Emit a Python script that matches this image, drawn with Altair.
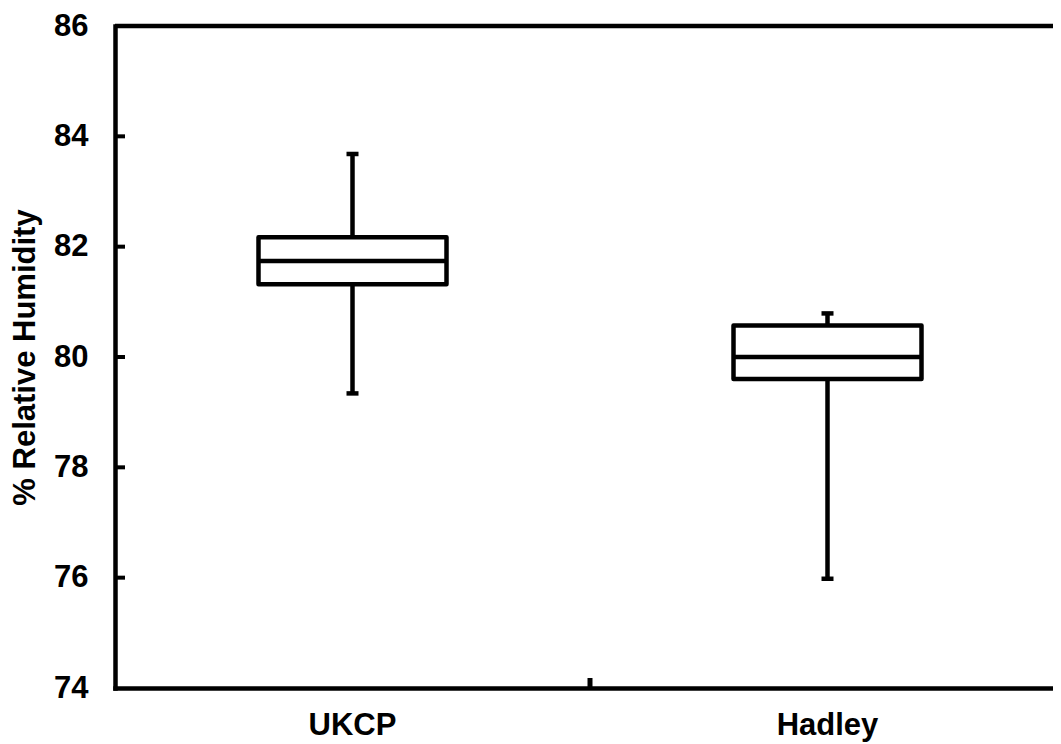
import altair as alt
import pandas as pd

categories = ["UKCP", "Hadley"]
whisker_low = [79.34, 75.98]
q1 = [81.32, 79.60]
median = [81.74, 80.00]
q3 = [82.17, 80.57]
whisker_high = [83.68, 80.79]
y_ticks = [74, 76, 78, 80, 82, 84, 86]
inner_y_ticks = [76, 78, 80, 82, 84]
x_tick_at = ["Hadley"]
frame_top = [86]

df = pd.DataFrame({
    "cat": categories,
    "low": whisker_low,
    "q1": q1,
    "median": median,
    "q3": q3,
    "high": whisker_high,
})

W, H = 938, 662
XRANGE = 950
FONT = "Liberation Sans"
FS = 31
LW = 4.5

xscale = alt.Scale(domain=categories, paddingInner=0, paddingOuter=0, range=[0, XRANGE])
yscale = alt.Scale(domain=[74, 86], nice=False, zero=False)

base = alt.Chart(df)

xenc = alt.X("cat:N", scale=xscale, sort=categories, title=None,
             axis=alt.Axis(labelAngle=0, labelFont=FONT, labelFontSize=FS,
                           labelFontWeight="bold", labelColor="black",
                           labelPadding=22, ticks=False, domain=True,
                           domainColor="black", domainWidth=LW, domainCap="square"))
yax = alt.Axis(values=y_ticks, format="d", labelFont=FONT, labelFontSize=FS,
               labelFontWeight="bold", labelColor="black", labelPadding=27,
               ticks=False, domain=True, domainColor="black", domainWidth=LW,
               domainCap="square", grid=False,
               title="% Relative Humidity", titleFont=FONT, titleFontSize=FS,
               titleFontWeight="bold", titleColor="black", titlePadding=12)

whisker = base.mark_rule(color="black", strokeWidth=LW).encode(
    x=xenc,
    y=alt.Y("low:Q", scale=yscale, axis=yax),
    y2="high:Q",
)
caps_low = base.mark_tick(color="black", size=12, thickness=LW, opacity=1,
                          orient="horizontal").encode(
    x=alt.X("cat:N", scale=xscale, sort=categories), y=alt.Y("low:Q", scale=yscale))
caps_high = base.mark_tick(color="black", size=12, thickness=LW, opacity=1,
                           orient="horizontal").encode(
    x=alt.X("cat:N", scale=xscale, sort=categories), y=alt.Y("high:Q", scale=yscale))
box = base.mark_bar(fill="white", stroke="black", strokeWidth=LW, size=188,
                    opacity=1, strokeJoin="round").encode(
    x=alt.X("cat:N", scale=xscale, sort=categories),
    y=alt.Y("q1:Q", scale=yscale),
    y2="q3:Q",
)
med = base.mark_tick(color="black", size=190, thickness=LW, opacity=1,
                     orient="horizontal").encode(
    x=alt.X("cat:N", scale=xscale, sort=categories), y=alt.Y("median:Q", scale=yscale))

ytick_layer = alt.Chart(pd.DataFrame({"v": inner_y_ticks})).mark_rule(
    color="black", strokeWidth=4).encode(
    y=alt.Y("v:Q", scale=yscale), x=alt.value(0), x2=alt.value(10))

xtick_layer = alt.Chart(pd.DataFrame({"cat": x_tick_at})).mark_rule(
    color="black", strokeWidth=5).encode(
    x=alt.X("cat:N", scale=xscale, sort=categories, bandPosition=0),
    y=alt.value(H), y2=alt.value(H - 10))

top_line = alt.Chart(pd.DataFrame({"v": frame_top})).mark_rule(
    color="black", strokeWidth=LW).encode(
    y=alt.Y("v:Q", scale=yscale), x=alt.value(0), x2=alt.value(XRANGE))

chart = alt.layer(whisker, caps_low, caps_high, box, med, ytick_layer, xtick_layer,
                  top_line).properties(
    width=W, height=H,
    autosize=alt.AutoSizeParams(type="none"),
    padding={"left": 107, "top": 18, "right": 0, "bottom": 56},
).configure(background="white").configure_view(strokeWidth=0)

chart.save("out.html", embed_options={"renderer": "svg", "actions": False})
